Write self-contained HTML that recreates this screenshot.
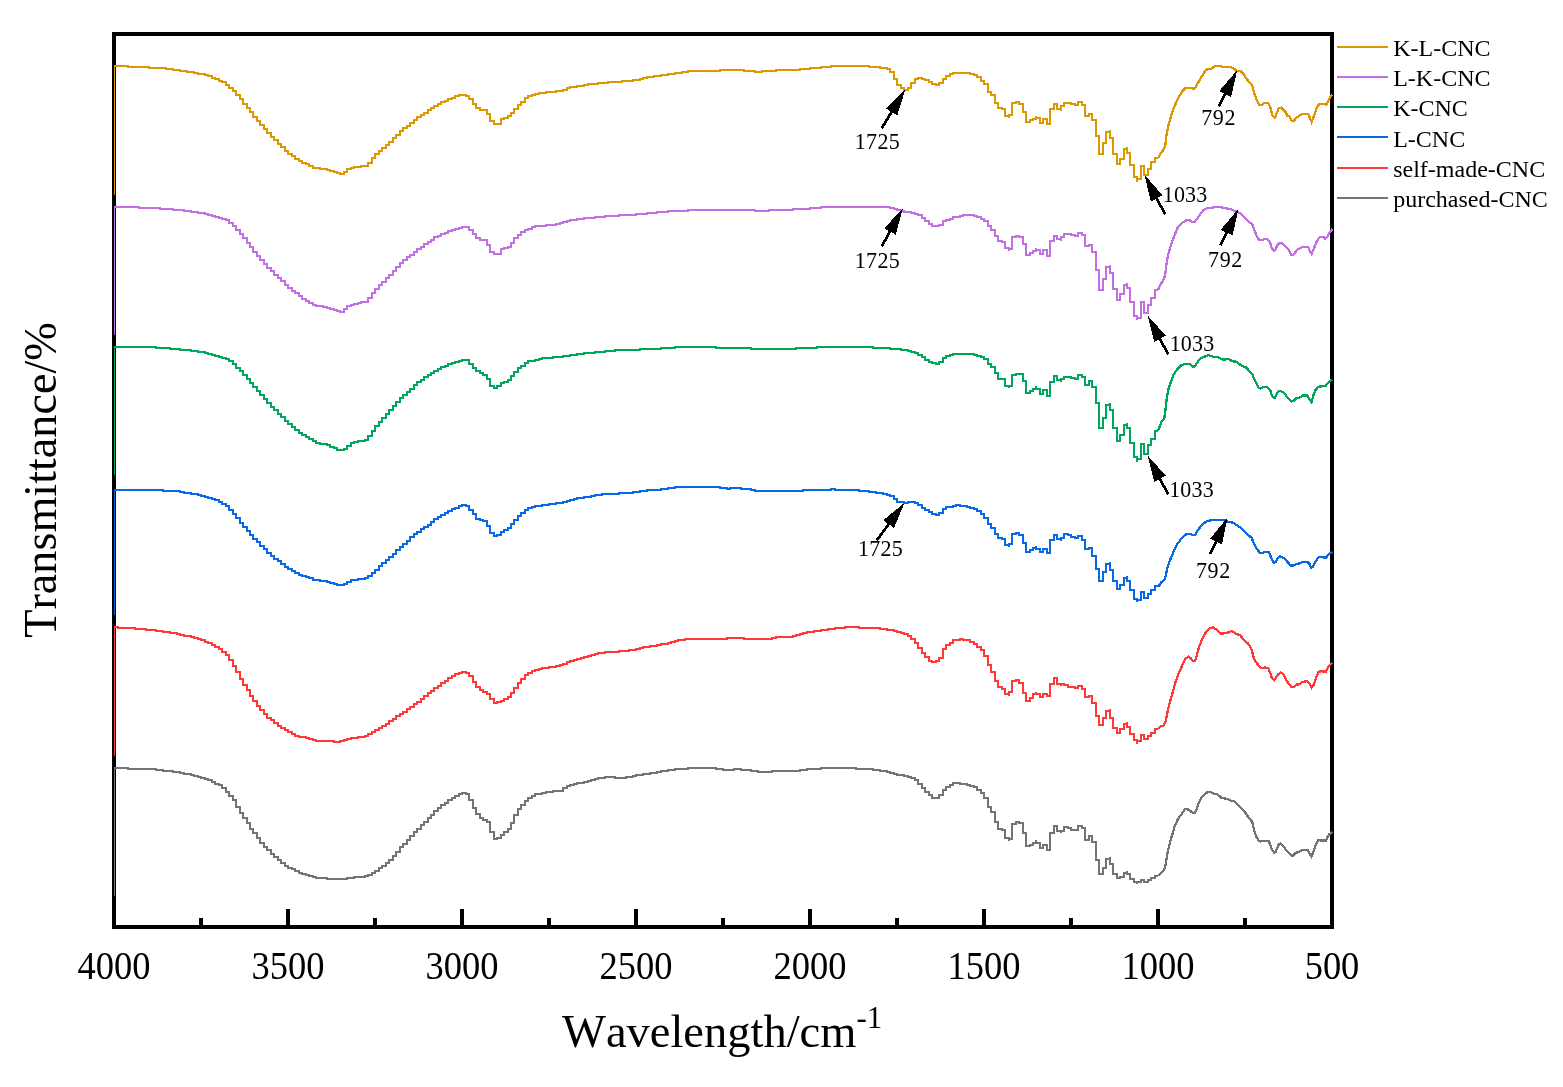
<!DOCTYPE html>
<html lang="en">
<head>
<meta charset="utf-8">
<title>FTIR spectra of CNC samples</title>
<style>
html,body{margin:0;padding:0;background:#fff;}
body{width:1563px;height:1087px;overflow:hidden;}
svg{display:block;}
text{font-family:'Liberation Serif', 'DejaVu Serif', serif;fill:#000;font-kerning:none;}
.tick{font-size:36.5px;text-anchor:middle;}
.title{font-size:46.5px;}
.leg{font-size:24px;}
.ann{font-size:22px;}
.curve{fill:none;stroke-linejoin:miter;stroke-linecap:butt;}
</style>
</head>
<body>
<svg width="1563" height="1087" viewBox="0 0 1563 1087">
<rect x="0" y="0" width="1563" height="1087" fill="#ffffff"/>
<g id="axes" shape-rendering="crispEdges">
<path d="M112 32H1334V929H112Z M116 36V925H1330V36Z" fill="#000" fill-rule="evenodd"/>
<rect x="1330.0" y="909" width="4" height="17" fill="#000"/>
<rect x="1243.0" y="918" width="4" height="8" fill="#000"/>
<rect x="1156.0" y="909" width="4" height="17" fill="#000"/>
<rect x="1069.0" y="918" width="4" height="8" fill="#000"/>
<rect x="982.0" y="909" width="4" height="17" fill="#000"/>
<rect x="895.0" y="918" width="4" height="8" fill="#000"/>
<rect x="808.0" y="909" width="4" height="17" fill="#000"/>
<rect x="721.0" y="918" width="4" height="8" fill="#000"/>
<rect x="634.0" y="909" width="4" height="17" fill="#000"/>
<rect x="547.0" y="918" width="4" height="8" fill="#000"/>
<rect x="460.0" y="909" width="4" height="17" fill="#000"/>
<rect x="373.0" y="918" width="4" height="8" fill="#000"/>
<rect x="286.0" y="909" width="4" height="17" fill="#000"/>
<rect x="199.0" y="918" width="4" height="8" fill="#000"/>
<rect x="112.0" y="909" width="4" height="17" fill="#000"/>
</g>
<defs><clipPath id="plotclip"><rect x="114" y="30" width="1219" height="900"/></clipPath></defs>
<g id="curves" clip-path="url(#plotclip)" shape-rendering="crispEdges">
<path class="curve" d="M114 195V66H118V66H121V66H125V66H128V67H132V67H135V67H139V67H142V67H146V67H149V68H153V68H156V68H160V68H163V68H166V69H170V69H173V70H177V70H180V71H184V71H187V72H191V72H194V73H198V74H201V74H205V75H208V76H212V78H215V79H219V81H222V82H226V85H229V88H233V91H236V95H240V99H243V104H247V108H250V112H253V117H257V121H260V125H264V129H267V133H271V137H274V140H278V144H281V147H285V151H288V154H292V156H295V159H299V161H302V163H306V164H309V166H313V168H316V168H320V169H323V169H327V170H330V171H334V172H337V173H340V174H344V172H347V169H351V168H354V167H358V167H361V166H365V166H368V163H372V158H375V154H379V151H382V148H386V145H389V142H393V138H396V135H400V131H403V128H407V126H410V123H414V120H417V117H421V115H424V113H428V110H431V108H434V106H438V104H441V102H445V101H448V99H452V98H455V96H459V95H462V95H466V96H469V99H473V104H476V108H480V110H483V110H487V114H490V121H494V124H497V124H501V119H504V118H508V116H511V113H514V109H518V105H521V102H525V98H528V96H532V95H535V94H539V93H542V93H546V92H549V92H553V92H556V91H560V91H563V90H567V88H570V87H574V87H577V86H581V86H584V85H588V84H591V84H595V84H598V83H602V83H605V83H608V82H612V82H615V82H619V82H622V81H626V81H629V81H633V80H636V80H640V79H643V78H647V77H650V77H654V76H657V76H661V75H664V75H668V74H671V74H675V73H678V73H682V72H685V72H688V71H692V71H695V71H699V71H702V71H706V71H709V71H713V71H716V71H720V70H723V70H727V70H730V70H734V70H737V70H741V70H744V71H748V71H751V71H755V72H758V72H762V71H765V71H769V71H772V71H776V70H779V70H782V70H786V70H789V70H793V70H796V70H800V69H803V69H807V69H810V68H814V68H817V68H821V67H824V67H828V67H831V66H835V66H838V66H842V66H845V66H849V66H852V66H856V66H859V66H862V66H866V66H869V67H873V67H876V67H880V68H883V68H887V69H890V72H894V79H897V85H901V88H904V90H908V88H911V83H915V79H918V78H922V79H925V80H929V82H932V84H936V85H939V83H943V79H946V76H950V74H953V73H956V73H960V73H963V73H967V73H970V74H974V75H977V77H981V81H984V84H988V92H991V95H995V103H998V108H1002V109H1005V116H1009V118V115H1012V103H1016V102H1019V104H1023V112H1026V122H1030V120H1033V119H1036V116V118H1040V123H1043V119H1047V124H1050V109H1054V104H1057V109H1061V111V106H1064V103H1068V103H1071V104H1075V105H1078V102H1082V105H1085V116H1089V114H1092V120H1096V136H1099V154H1103V143H1106V132H1110V130V138H1113V154H1117V164H1120V159H1124V149H1127V147V153H1130V165H1134V177H1137V182V179H1141V166H1144V175H1148V169H1151V162H1155V158H1158" stroke="#DB9800" stroke-width="2"/>
<path class="curve" d="M1158 158L1161.3 152.5L1164.2 149.0L1165.4 144.4L1166.5 135.2L1168.2 126.0L1170.5 117.9L1173.4 108.7L1178.0 98.4L1182.6 90.9L1185.5 88.0L1191.9 88.0L1193.6 88.9L1195.9 86.9L1199.3 80.5L1203.4 73.6L1206.2 69.6L1210.3 69.0L1215.5 66.1L1220.6 66.1L1221.8 67.0L1230.4 67.0L1234.5 69.0L1236.8 71.3L1240.8 71.3L1244.3 74.8L1246.0 78.2L1252.3 85.7L1254.0 92.6L1256.3 98.9L1259.2 104.7L1262.1 104.7L1264.4 103.0L1268.4 103.0L1270.2 107.0L1272.5 115.6L1274.8 117.9L1277.1 112.2L1278.8 108.2L1281.1 107.6L1286.3 112.8L1286.9 115.6L1289.2 116.2L1291.5 120.8L1293.8 120.8L1296.7 117.4L1299.5 115.6L1302.4 113.9L1308.2 113.9L1309.9 117.9L1311.6 122.0L1314.5 114.5L1316.8 107.6L1319.1 104.1L1324.3 104.1L1326.6 104.7L1328.9 100.1L1330.6 96.1L1332.4 94.9" stroke="#DB9800" stroke-width="2.3" stroke-linejoin="bevel"/>
<path class="curve" d="M114 335V207H118V207H121V207H125V207H128V207H132V207H135V207H139V208H142V208H146V208H149V208H153V208H156V208H160V209H163V209H166V209H170V209H173V210H177V210H180V210H184V211H187V211H191V212H194V212H198V213H201V213H205V214H208V215H212V216H215V217H219V218H222V219H226V220H229V223H233V226H236V230H240V234H243V238H247V243H250V247H253V252H257V256H260V260H264V264H267V268H271V271H274V275H278V278H281V281H285V285H288V288H292V291H295V293H299V296H302V299H306V301H309V303H313V305H316V306H320V306H323V307H327V308H330V309H334V310H337V311H340V312H344V309H347V306H351V305H354V304H358V303H361V302H365V302H368V298H372V293H375V289H379V285H382V282H386V278H389V275H393V271H396V267H400V263H403V260H407V257H410V255H414V252H417V249H421V247H424V244H428V242H431V240H434V237H438V236H441V234H445V233H448V231H452V230H455V229H459V228H462V227H466V227H469V230H473V234H476V238H480V240H483V240H487V245H490V252H494V254H497V254H501V249H504V248H508V247H511V243H514V238H518V235H521V232H525V230H528V229H532V227H535V226H539V226H542V226H546V225H549V225H553V225H556V224H560V223H563V222H567V221H570V220H574V220H577V219H581V219H584V218H588V218H591V218H595V217H598V217H602V217H605V216H608V216H612V216H615V216H619V215H622V215H626V215H629V215H633V215H636V214H640V214H643V214H647V213H650V213H654V213H657V212H661V212H664V212H668V211H671V211H675V211H678V211H682V211H685V211H688V210H692V210H695V210H699V210H702V210H706V210H709V210H713V210H716V210H720V210H723V210H727V210H730V210H734V210H737V210H741V210H744V210H748V210H751V210H755V211H758V211H762V211H765V211H769V210H772V210H776V210H779V210H782V210H786V210H789V210H793V209H796V209H800V209H803V209H807V209H810V208H814V208H817V208H821V207H824V207H828V207H831V207H835V207H838V207H842V207H845V207H849V207H852V207H856V207H859V207H862V207H866V207H869V207H873V207H876V207H880V207H883V207H887V207H890V208H894V209H897V210H901V211H904V212H908V212H911V213H915V214H918V215H922V218H925V221H929V224H932V226H936V226H939V225H943V221H946V220H950V219H953V217H956V217H960V216H963V215H967V215H970V215H974V216H977V217H981V219H984V221H988V226H991V230H995V236H998V241H1002V242H1005V248H1009V251V249H1012V237H1016V236H1019V237H1023V244H1026V255H1030V253H1033V251H1036V248V250H1040V254H1043V250H1047V256H1050V241H1054V236H1057V239H1061V241V237H1064V234H1068V234H1071V235H1075V236H1078V233H1082V235H1085V246H1089V245H1092V252H1096V270H1099V290H1103V279H1106V267H1110V265V273H1113V289H1117V300H1120V294H1124V285H1127V283V288H1130V302H1134V316H1137V320V318H1141V302H1144V313H1148V305H1151V298H1155V290H1158" stroke="#C070E2" stroke-width="2"/>
<path class="curve" d="M1158 290L1161.3 283.3L1164.2 278.7L1165.4 272.9L1166.5 263.7L1168.2 254.5L1170.5 246.4L1174.0 236.6L1178.0 226.9L1181.5 223.4L1185.5 220.5L1189.5 220.2L1191.9 221.7L1194.7 221.7L1197.6 218.2L1201.1 213.0L1203.4 210.2L1206.8 208.4L1211.4 207.9L1214.9 207.0L1220.6 207.3L1226.4 208.4L1231.0 209.3L1235.6 211.3L1240.8 213.6L1247.1 220.2L1252.3 224.5L1254.0 229.2L1256.3 234.9L1259.2 240.3L1262.1 240.3L1264.4 238.9L1267.3 238.9L1270.2 242.4L1271.3 247.6L1274.2 251.0L1275.9 248.7L1277.1 245.3L1279.4 243.0L1281.7 243.2L1285.1 245.9L1289.2 250.5L1291.5 255.1L1293.2 254.7L1297.2 249.9L1300.7 247.8L1303.6 247.0L1308.2 247.0L1309.9 251.0L1311.6 253.9L1313.9 248.7L1316.8 241.2L1319.7 237.2L1323.7 237.2L1325.4 238.9L1327.2 237.2L1328.9 233.2L1332.4 229.2" stroke="#C070E2" stroke-width="2.3" stroke-linejoin="bevel"/>
<path class="curve" d="M114 475V347H118V347H121V347H125V347H128V347H132V347H135V347H139V347H142V347H146V347H149V347H153V347H156V348H160V348H163V348H166V348H170V349H173V349H177V349H180V350H184V350H187V350H191V351H194V351H198V352H201V352H205V353H208V354H212V355H215V356H219V357H222V358H226V359H229V361H233V364H236V368H240V371H243V375H247V379H250V383H253V387H257V391H260V395H264V399H267V403H271V407H274V410H278V414H281V417H285V421H288V424H292V427H295V430H299V433H302V435H306V437H309V439H313V441H316V443H320V444H323V444H327V445H330V447H334V448H337V450H340V450H344V449H347V446H351V443H354V442H358V441H361V441H365V440H368V436H372V431H375V426H379V422H382V418H386V414H389V410H393V406H396V402H400V398H403V395H407V392H410V389H414V385H417V382H421V380H424V377H428V375H431V373H434V371H438V369H441V367H445V366H448V364H452V363H455V362H459V361H462V360H466V360H469V364H473V368H476V371H480V373H483V375H487V379H490V386H494V388H497V386H501V383H504V382H508V380H511V376H514V372H518V368H521V366H525V363H528V361H532V361H535V360H539V359H542V358H546V358H549V358H553V357H556V357H560V357H563V356H567V356H570V355H574V355H577V354H581V354H584V353H588V353H591V353H595V352H598V352H602V352H605V351H608V351H612V351H615V350H619V350H622V350H626V350H629V350H633V350H636V350H640V349H643V349H647V349H650V349H654V349H657V349H661V348H664V348H668V348H671V348H675V347H678V347H682V347H685V347H688V347H692V347H695V347H699V347H702V347H706V347H709V347H713V347H716V348H720V348H723V348H727V348H730V348H734V348H737V348H741V348H744V348H748V348H751V349H755V349H758V349H762V349H765V349H769V349H772V349H776V349H779V349H782V349H786V349H789V349H793V349H796V348H800V348H803V348H807V348H810V348H814V348H817V347H821V347H824V347H828V347H831V347H835V347H838V347H842V347H845V347H849V347H852V347H856V347H859V347H862V347H866V347H869V347H873V348H876V348H880V348H883V348H887V348H890V349H894V349H897V349H901V350H904V350H908V351H911V352H915V353H918V355H922V357H925V360H929V362H932V363H936V364H939V362H943V358H946V356H950V355H953V354H956V354H960V354H963V354H967V354H970V354H974V355H977V356H981V357H984V359H988V364H991V367H995V373H998V379H1002V379H1005V386H1009V388V386H1012V375H1016V374H1019V374H1023V381H1026V393H1030V391H1033V389H1036V386V389H1040V394H1043V390H1047V396H1050V382H1054V376H1057V380H1061V382V379H1064V377H1068V377H1071V378H1075V379H1078V375H1082V377H1085V385H1089V381H1092V387H1096V403H1099V428H1103V418H1106V405H1110V403V410H1113V428H1117V441H1120V435H1124V425H1127V423V428H1130V443H1134V457H1137V462V459H1141V444H1144V454H1148V445H1151V439H1155V431H1158" stroke="#00A65C" stroke-width="2"/>
<path class="curve" d="M1158 431L1161.3 422.1L1164.2 418.7L1165.4 410.6L1166.5 400.2L1168.2 389.9L1170.5 383.0L1173.4 374.9L1176.9 369.7L1181.5 365.1L1185.5 364.0L1189.5 364.0L1193.0 366.9L1194.7 366.3L1198.2 361.1L1201.1 357.9L1204.5 356.7L1208.6 355.1L1212.6 356.7L1218.3 357.1L1222.4 359.7L1228.7 359.0L1232.2 361.3L1236.8 361.7L1241.4 365.7L1246.0 367.4L1252.3 374.3L1254.0 378.4L1256.3 383.0L1258.1 387.0L1260.4 388.7L1263.3 387.0L1267.3 387.0L1270.2 389.9L1271.9 395.6L1273.6 397.9L1275.3 397.4L1277.1 393.3L1279.4 390.8L1281.7 391.6L1284.6 393.3L1287.4 397.4L1291.5 401.6L1293.8 400.8L1296.1 398.5L1299.0 397.7L1303.0 395.4L1307.6 395.4L1309.9 400.2L1311.6 402.0L1313.3 395.6L1315.1 390.5L1318.5 386.7L1322.0 386.4L1326.0 385.5L1328.9 381.8L1332.4 379.5" stroke="#00A65C" stroke-width="2.3" stroke-linejoin="bevel"/>
<path class="curve" d="M114 615V490H118V490H121V490H125V490H128V490H132V490H135V490H139V490H142V490H146V490H149V490H153V490H156V490H160V490H163V491H166V491H170V491H173V491H177V491H180V492H184V493H187V493H191V494H194V494H198V495H201V496H205V497H208V498H212V499H215V500H219V502H222V504H226V506H229V510H233V514H236V518H240V523H243V527H247V531H250V535H253V539H257V542H260V546H264V549H267V553H271V556H274V559H278V561H281V564H285V567H288V569H292V571H295V573H299V575H302V576H306V577H309V578H313V580H316V580H320V581H323V581H327V582H330V583H334V584H337V585H340V585H344V584H347V582H351V580H354V580H358V579H361V579H365V578H368V576H372V573H375V570H379V566H382V563H386V560H389V557H393V554H396V550H400V547H403V544H407V541H410V537H414V534H417V532H421V529H424V527H428V525H431V522H434V519H438V517H441V515H445V513H448V511H452V509H455V508H459V506H462V505H466V506H469V510H473V514H476V519H480V520H483V521H487V526H490V533H494V536H497V535H501V532H504V530H508V528H511V524H514V520H518V516H521V513H525V510H528V508H532V507H535V506H539V506H542V505H546V505H549V504H553V504H556V503H560V503H563V502H567V501H570V500H574V499H577V498H581V498H584V497H588V497H591V496H595V495H598V495H602V494H605V494H608V494H612V494H615V494H619V493H622V493H626V493H629V493H633V492H636V492H640V491H643V491H647V490H650V490H654V490H657V490H661V489H664V489H668V488H671V488H675V487H678V487H682V487H685V487H688V487H692V487H695V487H699V487H702V487H706V487H709V487H713V487H716V487H720V488H723V488H727V489H730V488H734V488H737V488H741V489H744V489H748V489H751V490H755V491H758V491H762V491H765V491H769V491H772V491H776V491H779V491H782V491H786V491H789V491H793V491H796V491H800V491H803V490H807V490H810V490H814V490H817V490H821V490H824V490H828V490H831V489H835V490H838V490H842V490H845V490H849V490H852V490H856V490H859V491H862V491H866V491H869V492H873V492H876V493H880V493H883V494H887V495H890V496H894V499H897V502H901V502H904V503H908V502H911V502H915V503H918V505H922V508H925V510H929V512H932V514H936V515H939V513H943V509H946V507H950V507H953V506H956V505H960V506H963V506H967V507H970V508H974V509H977V511H981V514H984V518H988V524H991V528H995V534H998V538H1002V539H1005V545H1009V547V544H1012V534H1016V533H1019V535H1023V543H1026V552H1030V550H1033V548H1036V546V549H1040V552H1043V549H1047V553H1050V540H1054V535H1057V539H1061V541V538H1064V534H1068V535H1071V537H1075V538H1078V536H1082V540H1085V549H1089V548H1092V556H1096V569H1099V581H1103V572H1106V564H1110V562V570H1113V581H1117V589H1120V585H1124V578H1127V576V581H1130V590H1134V599H1137V602V600H1141V592H1144V598H1148V594H1151V590H1155V586H1158" stroke="#0868E6" stroke-width="2"/>
<path class="curve" d="M1158 586L1159.0 585.8L1161.3 582.3L1164.8 579.4L1165.9 574.8L1167.1 569.1L1168.8 563.3L1171.1 557.6L1174.0 550.6L1177.5 543.7L1181.5 538.6L1185.5 534.5L1190.7 533.9L1192.4 535.1L1195.3 534.8L1197.6 530.5L1201.6 525.3L1205.7 521.9L1209.1 520.7L1212.6 519.8L1224.1 519.8L1228.7 521.9L1233.3 522.8L1236.8 525.3L1240.2 527.4L1246.0 533.1L1251.7 538.0L1254.0 543.7L1256.3 548.3L1259.8 552.7L1263.3 552.7L1265.0 551.8L1268.4 551.8L1270.2 555.2L1271.9 559.9L1274.2 563.1L1275.9 561.6L1277.6 558.1L1280.0 556.2L1281.7 557.0L1284.6 558.7L1287.4 561.9L1290.9 565.6L1293.8 565.6L1296.1 563.9L1299.0 563.5L1303.0 561.9L1307.6 561.9L1309.9 564.5L1311.0 567.7L1312.8 567.0L1315.1 562.2L1318.5 557.3L1322.0 557.3L1326.0 557.6L1328.9 554.1L1332.4 551.8" stroke="#0868E6" stroke-width="2.3" stroke-linejoin="bevel"/>
<path class="curve" d="M114 756V627H118V628H121V628H125V628H128V628H132V628H135V629H139V629H142V629H146V630H149V630H153V630H156V631H160V631H163V632H166V632H170V633H173V633H177V634H180V635H184V636H187V636H191V637H194V638H198V639H201V640H205V642H208V643H212V645H215V647H219V649H222V652H226V655H229V660H233V666H236V672H240V679H243V685H247V690H250V696H253V701H257V706H260V710H264V714H267V718H271V720H274V723H278V726H281V728H285V730H288V732H292V734H295V736H299V737H302V737H306V738H309V739H313V740H316V741H320V741H323V741H327V741H330V741H334V742H337V742H340V741H344V740H347V739H351V738H354V738H358V737H361V737H365V736H368V734H372V732H375V730H379V728H382V726H386V724H389V721H393V719H396V716H400V714H403V712H407V709H410V707H414V704H417V702H421V699H424V696H428V693H431V691H434V688H438V686H441V683H445V681H448V678H452V676H455V674H459V673H462V672H466V673H469V676H473V682H476V687H480V690H483V692H487V694H490V699H494V703H497V702H501V701H504V699H508V697H511V693H514V688H518V683H521V679H525V675H528V673H532V671H535V670H539V669H542V668H546V668H549V667H553V667H556V666H560V665H563V664H567V662H570V661H574V660H577V659H581V658H584V657H588V656H591V655H595V654H598V653H602V653H605V652H608V652H612V652H615V652H619V651H622V651H626V651H629V650H633V650H636V649H640V648H643V647H647V647H650V646H654V646H657V645H661V644H664V644H668V643H671V642H675V641H678V640H682V640H685V639H688V639H692V639H695V639H699V639H702V639H706V639H709V639H713V639H716V639H720V639H723V639H727V638H730V638H734V638H737V638H741V638H744V639H748V639H751V639H755V639H758V639H762V639H765V639H769V639H772V638H776V637H779V637H782V637H786V637H789V637H793V636H796V635H800V634H803V633H807V632H810V632H814V631H817V631H821V630H824V630H828V629H831V629H835V628H838V628H842V628H845V627H849V627H852V627H856V627H859V628H862V628H866V628H869V628H873V628H876V628H880V629H883V629H887V630H890V630H894V631H897V632H901V633H904V634H908V636H911V639H915V643H918V648H922V653H925V657H929V661H932V662H936V661H939V658H943V649H946V645H950V643H953V640H956V640H960V639H963V640H967V640H970V642H974V644H977V647H981V650H984V656H988V665H991V672H995V681H998V687H1002V689H1005V694H1009V696V692H1012V681H1016V680H1019V683H1023V693H1026V701H1030V698H1033V694H1036V692V694H1040V697H1043V694H1047V696H1050V684H1054V678H1057V684H1061V686V684H1064V685H1068V687H1071V687H1075V688H1078V686H1082V689H1085V697H1089V696H1092V703H1096V716H1099V725H1103V718H1106V711H1110V709V718H1113V728H1117V733H1120V729H1124V724H1127V722V727H1130V734H1134V740H1137V744V741H1141V735H1144V739H1148V736H1151V733H1155V729H1158" stroke="#FF3838" stroke-width="2"/>
<path class="curve" d="M1158 729L1160.8 726.1L1163.1 725.8L1165.4 722.1L1167.1 714.0L1168.8 706.0L1171.1 697.9L1173.4 689.9L1175.2 682.9L1178.0 674.9L1182.1 665.7L1185.5 658.8L1188.4 656.7L1190.7 658.2L1193.0 660.8L1195.1 660.8L1196.5 656.5L1199.3 646.1L1202.2 639.2L1206.2 631.7L1209.7 628.6L1213.2 627.1L1216.0 629.4L1220.6 633.4L1224.1 633.4L1228.1 632.5L1231.6 630.9L1235.6 633.4L1240.2 635.5L1244.8 640.9L1248.3 643.8L1251.7 649.5L1254.0 658.8L1256.9 663.4L1261.0 668.0L1265.6 667.4L1268.4 668.6L1270.2 672.6L1271.9 678.3L1274.2 680.1L1275.9 677.8L1278.2 674.3L1280.5 672.6L1283.4 674.0L1286.3 680.6L1289.2 683.9L1291.5 687.0L1293.8 687.0L1296.1 684.7L1299.0 684.4L1302.4 682.0L1307.0 681.2L1309.3 682.9L1311.6 687.6L1313.3 685.5L1315.7 678.9L1318.5 672.0L1320.8 671.2L1326.0 671.7L1328.9 665.7L1332.4 663.1" stroke="#FF3838" stroke-width="2.3" stroke-linejoin="bevel"/>
<path class="curve" d="M114 896V768H118V768H121V768H125V768H128V769H132V769H135V769H139V769H142V769H146V769H149V769H153V769H156V770H160V770H163V771H166V771H170V771H173V772H177V772H180V773H184V774H187V774H191V775H194V776H198V777H201V778H205V779H208V780H212V782H215V784H219V785H222V788H226V792H229V796H233V800H236V807H240V813H243V818H247V823H250V829H253V833H257V838H260V843H264V847H267V850H271V854H274V857H278V860H281V863H285V866H288V868H292V869H295V871H299V873H302V874H306V875H309V876H313V877H316V878H320V878H323V878H327V879H330V879H334V879H337V879H340V879H344V879H347V878H351V878H354V877H358V877H361V877H365V876H368V875H372V873H375V871H379V868H382V866H386V863H389V860H393V856H396V852H400V847H403V844H407V840H410V836H414V832H417V829H421V825H424V822H428V818H431V815H434V811H438V808H441V805H445V803H448V800H452V798H455V796H459V794H462V793H466V794H469V800H473V808H476V814H480V818H483V820H487V822H490V832H494V839H497V838H501V835H504V832H508V829H511V823H514V815H518V809H521V805H525V801H528V798H532V796H535V794H539V794H542V793H546V792H549V792H553V791H556V791H560V791H563V788H567V786H570V785H574V784H577V783H581V783H584V782H588V781H591V780H595V779H598V778H602V778H605V777H608V777H612V777H615V778H619V778H622V778H626V777H629V777H633V776H636V775H640V775H643V774H647V774H650V773H654V773H657V772H661V771H664V771H668V770H671V770H675V769H678V769H682V769H685V769H688V768H692V768H695V768H699V768H702V768H706V768H709V768H713V768H716V769H720V769H723V770H727V770H730V770H734V769H737V769H741V770H744V770H748V770H751V771H755V771H758V772H762V772H765V772H769V772H772V771H776V771H779V771H782V771H786V771H789V771H793V771H796V771H800V770H803V770H807V769H810V769H814V769H817V769H821V768H824V768H828V768H831V768H835V768H838V768H842V768H845V768H849V768H852V768H856V769H859V769H862V769H866V769H869V769H873V770H876V770H880V771H883V771H887V772H890V773H894V774H897V775H901V775H904V776H908V777H911V778H915V780H918V784H922V788H925V792H929V795H932V798H936V798H939V795H943V790H946V787H950V785H953V783H956V783H960V784H963V784H967V785H970V786H974V787H977V790H981V793H984V798H988V807H991V812H995V822H998V829H1002V830H1005V838H1009V841V839H1012V824H1016V822H1019V823H1023V833H1026V846H1030V845H1033V843H1036V840V843H1040V848H1043V845H1047V850H1050V833H1054V826H1057V831H1061V833V831H1064V827H1068V828H1071V830H1075V830H1078V826H1082V828H1085V840H1089V836H1092V842H1096V860H1099V874H1103V868H1106V859H1110V857V864H1113V874H1117V878H1120V877H1124V873H1127V871V874H1130V879H1134V882H1137V884V882H1141V880H1144V882H1148V880H1151V878H1155V876H1158" stroke="#747474" stroke-width="2"/>
<path class="curve" d="M1158 876L1160.8 873.1L1164.2 869.6L1165.4 865.6L1167.1 855.2L1168.8 847.2L1170.5 840.2L1172.9 832.8L1174.6 826.4L1178.0 818.9L1181.5 814.3L1184.4 809.7L1186.7 808.8L1189.5 810.3L1193.0 813.2L1195.1 812.8L1197.0 808.0L1198.8 802.8L1201.6 797.1L1205.1 793.6L1208.0 791.9L1210.9 791.9L1213.7 793.6L1217.2 794.2L1221.2 797.6L1225.2 798.6L1228.7 799.4L1231.0 800.9L1233.9 800.9L1237.9 805.1L1244.8 812.0L1248.3 817.2L1252.3 821.8L1254.0 829.9L1255.8 835.6L1258.1 840.0L1260.4 841.4L1263.8 840.8L1268.4 840.8L1270.2 844.3L1271.9 850.0L1274.2 852.7L1275.7 851.8L1277.1 848.3L1278.8 844.3L1280.5 843.7L1284.0 846.6L1286.3 850.6L1289.2 853.1L1291.5 855.8L1293.2 855.5L1295.5 852.9L1299.0 852.0L1302.4 849.7L1307.6 849.7L1309.3 852.9L1311.4 856.6L1313.3 852.3L1315.1 846.6L1318.5 840.0L1320.8 840.5L1326.0 840.5L1327.2 837.4L1329.5 833.9L1332.4 832.0" stroke="#747474" stroke-width="2.3" stroke-linejoin="bevel"/>
</g>
<g id="ticklabels">
<text class="tick" transform="translate(1332.0 979.0) scale(1 1.075)">500</text>
<text class="tick" transform="translate(1158.0 979.0) scale(1 1.075)">1000</text>
<text class="tick" transform="translate(984.0 979.0) scale(1 1.075)">1500</text>
<text class="tick" transform="translate(810.0 979.0) scale(1 1.075)">2000</text>
<text class="tick" transform="translate(636.0 979.0) scale(1 1.075)">2500</text>
<text class="tick" transform="translate(462.0 979.0) scale(1 1.075)">3000</text>
<text class="tick" transform="translate(288.0 979.0) scale(1 1.075)">3500</text>
<text class="tick" transform="translate(114.0 979.0) scale(1 1.075)">4000</text>
</g>
<text class="title" x="562" y="1046.6">Wavelength/cm<tspan font-size="31px" dy="-18.5">-1</tspan></text>
<text class="title" style="font-size:46.2px" transform="translate(56 480) rotate(-90)" text-anchor="middle">Transmittance/%</text>
<g id="legend">
<line x1="1337" y1="47" x2="1388" y2="47" stroke="#DB9800" stroke-width="2" shape-rendering="crispEdges"/>
<text class="leg" x="1393.2" y="56.1">K-L-CNC</text>
<line x1="1337" y1="77" x2="1388" y2="77" stroke="#C070E2" stroke-width="2" shape-rendering="crispEdges"/>
<text class="leg" x="1393.2" y="86.0">L-K-CNC</text>
<line x1="1337" y1="107" x2="1388" y2="107" stroke="#00A65C" stroke-width="2" shape-rendering="crispEdges"/>
<text class="leg" x="1393.2" y="116.2">K-CNC</text>
<line x1="1337" y1="137" x2="1388" y2="137" stroke="#0868E6" stroke-width="2" shape-rendering="crispEdges"/>
<text class="leg" x="1393.2" y="146.7">L-CNC</text>
<line x1="1337" y1="168" x2="1388" y2="168" stroke="#FF3838" stroke-width="2" shape-rendering="crispEdges"/>
<text class="leg" x="1393.2" y="176.9">self-made-CNC</text>
<line x1="1337" y1="198" x2="1388" y2="198" stroke="#747474" stroke-width="2" shape-rendering="crispEdges"/>
<text class="leg" x="1393.2" y="206.8">purchased-CNC</text>
</g>
<g id="annotations" shape-rendering="crispEdges">
<line x1="892.2" y1="111.0" x2="881.7" y2="128.3" stroke="#000" stroke-width="2.7" stroke-linecap="butt"/>
<polygon points="905.5,89.0 886.0,108.4 897.3,115.3" fill="#000"/>
<text class="ann" letter-spacing="0.30" transform="translate(854.8 149.0) scale(1 1.030)">1725</text>
<line x1="1225.7" y1="93.1" x2="1218.9" y2="106.4" stroke="#000" stroke-width="2.7" stroke-linecap="butt"/>
<polygon points="1237.3,70.1 1219.3,91.0 1231.1,96.9" fill="#000"/>
<text class="ann" letter-spacing="0.60" transform="translate(1201.2 124.9) scale(1 1.030)">792</text>
<line x1="1156.3" y1="197.5" x2="1165.1" y2="214.3" stroke="#000" stroke-width="2.7" stroke-linecap="butt"/>
<polygon points="1144.4,174.7 1150.9,201.5 1162.6,195.3" fill="#000"/>
<text class="ann" letter-spacing="0.15" transform="translate(1162.8 202.1) scale(1 1.030)">1033</text>
<line x1="890.5" y1="230.6" x2="881.7" y2="246.4" stroke="#000" stroke-width="2.7" stroke-linecap="butt"/>
<polygon points="902.9,208.2 884.2,228.3 895.7,234.7" fill="#000"/>
<text class="ann" letter-spacing="0.30" transform="translate(854.8 267.9) scale(1 1.030)">1725</text>
<line x1="1227.1" y1="231.7" x2="1220.5" y2="245.1" stroke="#000" stroke-width="2.7" stroke-linecap="butt"/>
<polygon points="1238.5,208.6 1220.8,229.7 1232.6,235.5" fill="#000"/>
<text class="ann" letter-spacing="0.60" transform="translate(1208.1 266.9) scale(1 1.030)">792</text>
<line x1="1159.5" y1="338.0" x2="1168.2" y2="354.3" stroke="#000" stroke-width="2.7" stroke-linecap="butt"/>
<polygon points="1147.5,315.3 1154.2,341.9 1165.8,335.7" fill="#000"/>
<text class="ann" letter-spacing="0.15" transform="translate(1169.7 351.1) scale(1 1.030)">1033</text>
<line x1="1159.5" y1="478.0" x2="1168.2" y2="494.3" stroke="#000" stroke-width="2.7" stroke-linecap="butt"/>
<polygon points="1147.5,455.3 1154.2,481.9 1165.8,475.7" fill="#000"/>
<text class="ann" letter-spacing="0.15" transform="translate(1169.2 497.1) scale(1 1.030)">1033</text>
<line x1="889.3" y1="523.3" x2="876.9" y2="540.2" stroke="#000" stroke-width="2.7" stroke-linecap="butt"/>
<polygon points="904.6,502.7 883.4,520.2 894.0,528.1" fill="#000"/>
<text class="ann" letter-spacing="0.30" transform="translate(857.9 555.7) scale(1 1.030)">1725</text>
<line x1="1216.5" y1="540.6" x2="1210.1" y2="554.1" stroke="#000" stroke-width="2.7" stroke-linecap="butt"/>
<polygon points="1227.6,517.4 1210.1,538.7 1222.0,544.4" fill="#000"/>
<text class="ann" letter-spacing="0.60" transform="translate(1196.0 578.0) scale(1 1.030)">792</text>
</g>
</svg>
</body>
</html>
